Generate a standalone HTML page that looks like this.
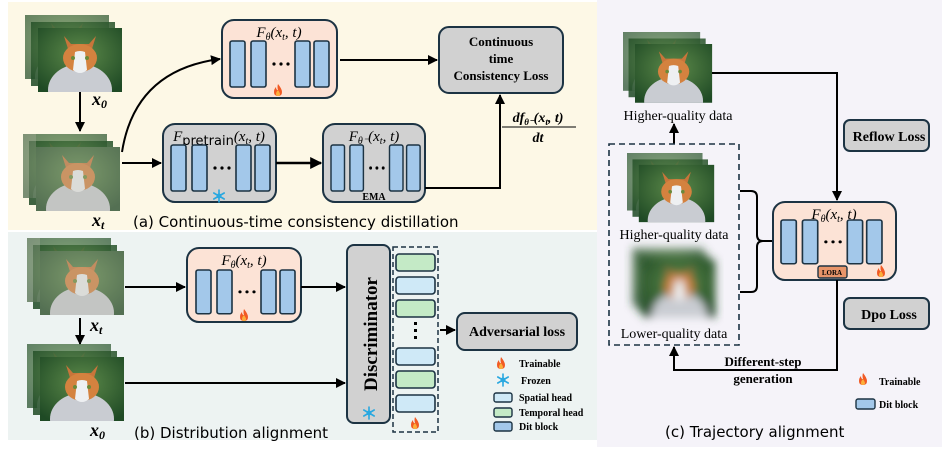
<!DOCTYPE html>
<html><head><meta charset="utf-8"><style>
html,body{margin:0;padding:0;background:#fff;}
svg{display:block;}
.m{font-family:"Liberation Serif",serif;font-style:italic;}
.b{font-family:"Liberation Serif",serif;font-weight:bold;}
.c{font-family:"DejaVu Sans",sans-serif;}
</style></head><body>
<svg width="947" height="458" viewBox="0 0 947 458" xmlns="http://www.w3.org/2000/svg">
<defs>
 <marker id="ar" viewBox="0 0 10 10" refX="9" refY="5" markerWidth="5" markerHeight="5" orient="auto"><path d="M0,0L10,5L0,10z" fill="#000"/></marker>
 <radialGradient id="bg1" cx="0.5" cy="0.4" r="0.7"><stop offset="0" stop-color="#5d8a4a"/><stop offset="1" stop-color="#1f4a25"/></radialGradient>
 <filter id="bl"><feGaussianBlur stdDeviation="5"/></filter>
 <clipPath id="cc"><rect width="84" height="64"/></clipPath>
 <g id="cat">
  <g clip-path="url(#cc)">
  <rect width="84" height="64" fill="url(#bg1)"/>
  <ellipse cx="42" cy="62" rx="32" ry="26" fill="#c9ccd2"/>
  <path d="M26 8 L31 24 L53 24 L58 8 L51 16 L33 16 Z" fill="#c8753a"/>
  <ellipse cx="42" cy="30" rx="17" ry="14" fill="#d4823f"/>
  <path d="M37 24 Q42 22 47 24 L49 42 Q42 48 35 42 Z" fill="#eef0f2"/>
  <circle cx="35" cy="30" r="2" fill="#6a8a3a"/><circle cx="49" cy="30" r="2" fill="#6a8a3a"/>
  </g>
 </g>
 <g id="stack">
  <g opacity="0.7"><use href="#cat"/></g>
  <g transform="translate(6,7)" opacity="0.85"><use href="#cat"/></g>
  <g transform="translate(13,13)"><use href="#cat"/></g>
 </g>
 <g id="noisy">
  <use href="#stack"/>
  <rect x="13" y="13" width="84" height="64" fill="#b8b8a8" opacity="0.35"/>
  <rect x="0" y="0" width="13" height="64" fill="#b8b8a8" opacity="0.3"/>
 </g>
 <g id="blur">
  <g filter="url(#bl)"><use href="#stack"/></g>
 </g>
 <g id="fire">
  <path d="M5 0 Q9 5 9 8 Q9 12 5 12 Q1 12 1 8 Q1 5 3 3 Q3 6 5 6 Q4 3 5 0Z" fill="#f15a24"/>
  <path d="M5 6 Q7 9 7 10 Q7 12 5 12 Q3 12 3 10 Q3 8 5 6Z" fill="#fbb03b"/>
 </g>
 <g id="snow" stroke="#29a8e0" stroke-width="1.6" stroke-linecap="round">
  <line x1="6" y1="0" x2="6" y2="12"/><line x1="0.8" y1="3" x2="11.2" y2="9"/><line x1="0.8" y1="9" x2="11.2" y2="3"/>
  <circle cx="6" cy="6" r="2" fill="none" stroke-width="1"/>
 </g>
 <g id="blk4">
  <rect x="0" y="0" width="15" height="46" rx="2" fill="#a3c8ea" stroke="#1c3343" stroke-width="1.6"/>
  <rect x="21" y="0" width="15" height="46" rx="2" fill="#a3c8ea" stroke="#1c3343" stroke-width="1.6"/>
  <rect x="65" y="0" width="15" height="46" rx="2" fill="#a3c8ea" stroke="#1c3343" stroke-width="1.6"/>
  <rect x="84" y="0" width="15" height="46" rx="2" fill="#a3c8ea" stroke="#1c3343" stroke-width="1.6"/>
  <circle cx="44" cy="23" r="1.6"/><circle cx="51" cy="23" r="1.6"/><circle cx="58" cy="23" r="1.6"/>
 </g>
</defs>

<rect x="8" y="2" width="590" height="228" fill="#fdf8e6"/>
<rect x="8" y="232" width="590" height="208" fill="#edf3f2"/>
<rect x="597" y="0" width="345" height="447" fill="#f5f3f9"/>

<!-- (a) -->
<g transform="translate(25,15)"><use href="#stack"/></g>
<text x="92" y="105" class="m" font-size="18" font-weight="bold">x<tspan font-size="12" dy="3">0</tspan></text>
<line x1="80" y1="92" x2="80" y2="131" stroke="#000" stroke-width="2" marker-end="url(#ar)"/>
<g transform="translate(23,134)"><use href="#noisy"/></g>
<text x="92" y="226" class="m" font-size="18" font-weight="bold">x<tspan font-size="12" dy="3">t</tspan></text>

<path d="M122 152 Q135 70 220 59" fill="none" stroke="#000" stroke-width="2" marker-end="url(#ar)"/>
<line x1="122" y1="163" x2="161" y2="163" stroke="#000" stroke-width="2" marker-end="url(#ar)"/>

<rect x="222" y="20" width="115" height="78" rx="12" fill="#fce3d6" stroke="#1c3343" stroke-width="2"/>
<text x="279" y="37" class="m" font-size="15" text-anchor="middle">F<tspan font-size="10" dy="3">θ</tspan><tspan dy="-3">(x</tspan><tspan font-size="10" dy="3">t</tspan><tspan dy="-3">, t)</tspan></text>
<g transform="translate(230,41)"><use href="#blk4"/></g>
<g transform="translate(273,84)"><use href="#fire"/></g>
<line x1="340" y1="60" x2="437" y2="60" stroke="#000" stroke-width="2" marker-end="url(#ar)"/>

<rect x="439" y="27" width="124" height="66" rx="10" fill="#d1d1d1" stroke="#1c3343" stroke-width="2"/>
<text x="501" y="46" class="b" font-size="13" text-anchor="middle">Continuous</text>
<text x="501" y="63" class="b" font-size="13" text-anchor="middle">time</text>
<text x="501" y="80" class="b" font-size="13" text-anchor="middle">Consistency Loss</text>

<rect x="163" y="124" width="113" height="78" rx="12" fill="#d1d1d1" stroke="#1c3343" stroke-width="2"/>
<text x="219" y="141" class="m" font-size="15" text-anchor="middle">F<tspan font-size="13" dy="4" font-style="normal" font-family="DejaVu Sans">pretrain</tspan><tspan dy="-4">(x</tspan><tspan font-size="10" dy="3">t</tspan><tspan dy="-3">, t)</tspan></text>
<g transform="translate(171,145)"><use href="#blk4"/></g>
<g transform="translate(213,190)"><use href="#snow"/></g>
<line x1="276" y1="163" x2="321" y2="163" stroke="#000" stroke-width="2.4" marker-end="url(#ar)"/>

<rect x="323" y="124" width="102" height="78" rx="12" fill="#d1d1d1" stroke="#1c3343" stroke-width="2"/>
<text x="374" y="141" class="m" font-size="15" text-anchor="middle">F<tspan font-size="10" dy="3">θ⁻</tspan><tspan dy="-3">(x</tspan><tspan font-size="10" dy="3">t</tspan><tspan dy="-3">, t)</tspan></text>
<g transform="translate(331,145) scale(0.9,1)"><use href="#blk4"/></g>
<text x="374" y="200" class="b" font-size="10" text-anchor="middle">EMA</text>
<polyline points="425,188 500,188 500,95" fill="none" stroke="#000" stroke-width="2" marker-end="url(#ar)"/>
<text x="538" y="122" class="m" font-size="14" font-weight="bold" text-anchor="middle">df<tspan font-size="9" dy="3">θ⁻</tspan><tspan dy="-3">(x</tspan><tspan font-size="9" dy="3">t</tspan><tspan dy="-3">, t)</tspan></text>
<line x1="502" y1="127" x2="576" y2="127" stroke="#000" stroke-width="1"/>
<text x="538" y="142" class="m" font-size="14" font-weight="bold" text-anchor="middle">dt</text>
<text x="133" y="227" class="c" font-size="15">(a) Continuous-time consistency distillation</text>

<!-- (b) -->
<g transform="translate(27,238)"><use href="#noisy"/></g>
<text x="90" y="331" class="m" font-size="18" font-weight="bold">x<tspan font-size="12" dy="3">t</tspan></text>
<line x1="80" y1="318" x2="80" y2="344" stroke="#000" stroke-width="2" marker-end="url(#ar)"/>
<g transform="translate(27,344)"><use href="#stack"/></g>
<text x="90" y="436" class="m" font-size="18" font-weight="bold">x<tspan font-size="12" dy="3">0</tspan></text>
<line x1="125" y1="287" x2="185" y2="287" stroke="#000" stroke-width="2" marker-end="url(#ar)"/>
<rect x="187" y="248" width="114" height="74" rx="12" fill="#fce3d6" stroke="#1c3343" stroke-width="2"/>
<text x="244" y="265" class="m" font-size="15" text-anchor="middle">F<tspan font-size="10" dy="3">θ</tspan><tspan dy="-3">(x</tspan><tspan font-size="10" dy="3">t</tspan><tspan dy="-3">, t)</tspan></text>
<g transform="translate(196,270) scale(1,0.95)"><use href="#blk4"/></g>
<g transform="translate(239,309)"><use href="#fire"/></g>
<line x1="301" y1="287" x2="345" y2="287" stroke="#000" stroke-width="2" marker-end="url(#ar)"/>
<line x1="125" y1="383" x2="345" y2="383" stroke="#000" stroke-width="2" marker-end="url(#ar)"/>
<rect x="347" y="245" width="43" height="178" rx="7" fill="#d1d1d1" stroke="#1c3343" stroke-width="2"/>
<text transform="translate(377,334) rotate(-90)" class="b" font-size="19" text-anchor="middle">Discriminator</text>
<g transform="translate(363,407)"><use href="#snow"/></g>
<rect x="393" y="247" width="45" height="185" fill="none" stroke="#1c3343" stroke-width="1.5" stroke-dasharray="5,3"/>
<g stroke="#1c3343" stroke-width="1.6">
<rect x="396" y="254" width="39" height="17" rx="3" fill="#c4eac6"/>
<rect x="396" y="277" width="39" height="17" rx="3" fill="#cfe9f7"/>
<rect x="396" y="300" width="39" height="17" rx="3" fill="#c4eac6"/>
<rect x="396" y="348" width="39" height="17" rx="3" fill="#cfe9f7"/>
<rect x="396" y="371" width="39" height="17" rx="3" fill="#c4eac6"/>
<rect x="396" y="395" width="39" height="17" rx="3" fill="#cfe9f7"/>
</g>
<rect x="414" y="322" width="3" height="3"/><rect x="414" y="329" width="3" height="3"/><rect x="414" y="336" width="3" height="3"/>
<g transform="translate(410,417)"><use href="#fire"/></g>
<line x1="440" y1="330" x2="455" y2="330" stroke="#000" stroke-width="2" marker-end="url(#ar)"/>
<rect x="457" y="313" width="120" height="37" rx="8" fill="#d1d1d1" stroke="#1c3343" stroke-width="2"/>
<text x="517" y="336" class="b" font-size="14" text-anchor="middle">Adversarial loss</text>
<g transform="translate(496,357)"><use href="#fire"/></g>
<text x="519" y="367" class="b" font-size="10">Trainable</text>
<g transform="translate(497,374)"><use href="#snow"/></g>
<text x="521" y="384" class="b" font-size="10">Frozen</text>
<g stroke="#1c3343" stroke-width="1.4">
<rect x="494" y="393" width="18" height="9" rx="2" fill="#cfe9f7"/>
<rect x="494" y="408" width="18" height="9" rx="2" fill="#c4eac6"/>
<rect x="494" y="422" width="18" height="9" rx="2" fill="#a3c8ea"/>
</g>
<text x="519" y="401" class="b" font-size="10">Spatial head</text>
<text x="519" y="416" class="b" font-size="10">Temporal head</text>
<text x="519" y="430" class="b" font-size="10">Dit block</text>
<text x="134" y="438" class="c" font-size="15">(b) Distribution alignment</text>

<!-- (c) -->
<g transform="translate(623,32) scale(0.92,0.92)"><use href="#stack"/></g>
<text x="678" y="120" font-family="Liberation Serif" font-size="14" text-anchor="middle">Higher-quality data</text>
<line x1="674" y1="144" x2="674" y2="124" stroke="#000" stroke-width="2" marker-end="url(#ar)"/>
<rect x="609" y="144" width="130" height="201" fill="none" stroke="#1c3343" stroke-width="1.6" stroke-dasharray="6,4"/>
<g transform="translate(627,153) scale(0.9,0.9)"><use href="#stack"/></g>
<text x="674" y="239" font-family="Liberation Serif" font-size="14" text-anchor="middle">Higher-quality data</text>
<g transform="translate(632,248) scale(0.86,0.9)"><use href="#blur"/></g>
<text x="674" y="338" font-family="Liberation Serif" font-size="14" text-anchor="middle">Lower-quality data</text>
<path d="M740 191 L751 191 Q757 191 757 197 L757 235 Q757 241 763 241 L773 241 M763 241 Q757 241 757 247 L757 286 Q757 292 751 292 L740 292" fill="none" stroke="#000" stroke-width="2"/>
<polyline points="712,73 837,73 837,200" fill="none" stroke="#000" stroke-width="2" marker-end="url(#ar)"/>
<rect x="773" y="202" width="123" height="78" rx="12" fill="#fce3d6" stroke="#1c3343" stroke-width="2"/>
<text x="834" y="219" class="m" font-size="15" text-anchor="middle">F<tspan font-size="10" dy="3">θ</tspan><tspan dy="-3">(x</tspan><tspan font-size="10" dy="3">t</tspan><tspan dy="-3">, t)</tspan></text>
<g transform="translate(781,220) scale(1.02,0.95)"><use href="#blk4"/></g>
<rect x="818" y="266" width="29" height="12" rx="2" fill="#e8956a" stroke="#1c3343" stroke-width="1.4"/>
<text x="832" y="275" class="b" font-size="7" text-anchor="middle">LORA</text>
<g transform="translate(876,265)"><use href="#fire"/></g>
<polyline points="837,280 837,370 674,370 674,347" fill="none" stroke="#000" stroke-width="2" marker-end="url(#ar)"/>
<rect x="844" y="120" width="85" height="31" rx="6" fill="#d1d1d1" stroke="#1c3343" stroke-width="2"/>
<text x="889" y="141" class="b" font-size="14" text-anchor="middle">Reflow Loss</text>
<rect x="844" y="298" width="85" height="31" rx="6" fill="#d1d1d1" stroke="#1c3343" stroke-width="2"/>
<text x="889" y="319" class="b" font-size="14" text-anchor="middle">Dpo Loss</text>
<text x="763" y="366" class="b" font-size="13" text-anchor="middle">Different-step</text>
<text x="763" y="383" class="b" font-size="13" text-anchor="middle">generation</text>
<g transform="translate(858,373)"><use href="#fire"/></g>
<text x="879" y="385" class="b" font-size="10">Trainable</text>
<rect x="856" y="399" width="19" height="10" rx="2" fill="#a3c8ea" stroke="#1c3343" stroke-width="1.4"/>
<text x="879" y="408" class="b" font-size="10">Dit block</text>
<text x="665" y="437" class="c" font-size="15">(c) Trajectory alignment</text>
</svg>
</body></html>
